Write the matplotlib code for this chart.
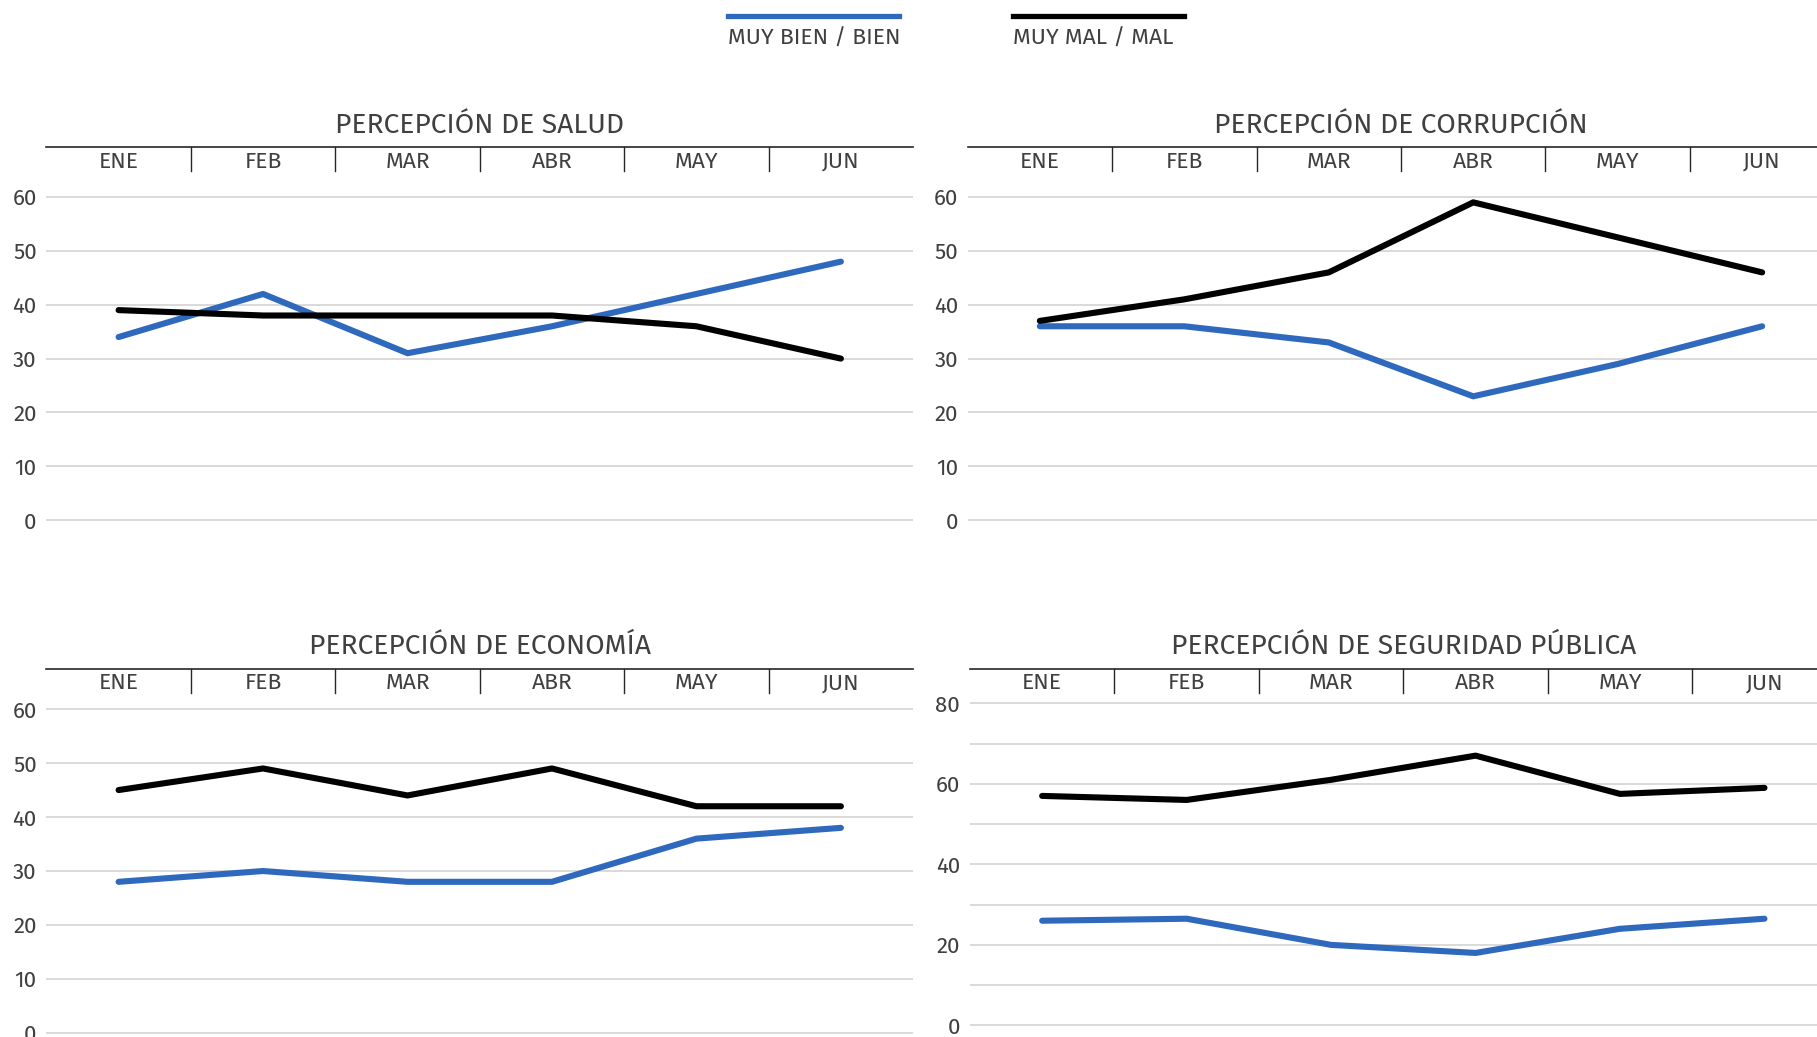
import matplotlib
matplotlib.use("Agg")
import matplotlib.pyplot as plt
from matplotlib import font_manager
from matplotlib.lines import Line2D
import matplotlib.transforms as mtransforms

# ---------------- data ----------------
months = ["ENE", "FEB", "MAR", "ABR", "MAY", "JUN"]
series_names = ["MUY BIEN / BIEN", "MUY MAL / MAL"]

titles = ["PERCEPCIÓN DE SALUD", "PERCEPCIÓN DE CORRUPCIÓN",
          "PERCEPCIÓN DE ECONOMÍA", "PERCEPCIÓN DE SEGURIDAD PÚBLICA"]

salud_bien = [34, 42, 31, 36, 42, 48]
salud_mal = [39, 38, 38, 38, 36, 30]

corrupcion_bien = [36, 36, 33, 23, 29, 36]
corrupcion_mal = [37, 41, 46, 59, 52.5, 46]

economia_bien = [28, 30, 28, 28, 36, 38]
economia_mal = [45, 49, 44, 49, 42, 42]

seguridad_bien = [26, 26.5, 20, 18, 24, 26.5]
seguridad_mal = [57, 56, 61, 67, 57.5, 59]

# ---------------- style ----------------
avail = {f.name for f in font_manager.fontManager.ttflist}
font = "DejaVu Sans"
for cand in ["Fira Sans", "Liberation Sans Narrow", "Roboto Condensed", "Roboto", "Open Sans"]:
    if cand in avail:
        font = cand
        break
plt.rcParams["font.family"] = [font, "DejaVu Sans"]

BLUE = "#2F69BD"
BLACK = "#000000"
TXT = "#404040"
GRID = "#D9D9D9"

W, H = 1568.0, 895.0  # reference display coordinate system
fig = plt.figure(figsize=(18.17, 10.37), dpi=100)


def make_axes(x0, x1, ytop, y0, yv, v, bottom=-2.0):
    unit = (y0 - yv) / v
    top_val = v + (yv - ytop) / unit
    ybot = y0 + (-bottom) * unit
    rect = [x0 / W, 1 - ybot / H, (x1 - x0) / W, (ybot - ytop) / H]
    ax = fig.add_axes(rect)
    ax.set_ylim(bottom, top_val)
    return ax


panels = [
    dict(title=titles[0], bien=salud_bien, mal=salud_mal,
         geom=(40, 788, 127, 449, 170, 60), ticks=range(0, 61, 10), labels=range(0, 61, 10)),
    dict(title=titles[1], bien=corrupcion_bien, mal=corrupcion_mal,
         geom=(835, 1583, 127, 449, 170, 60), ticks=range(0, 61, 10), labels=range(0, 61, 10)),
    dict(title=titles[2], bien=economia_bien, mal=economia_mal,
         geom=(40, 788, 577, 891.5, 612, 60), ticks=range(0, 61, 10), labels=range(0, 61, 10)),
    dict(title=titles[3], bien=seguridad_bien, mal=seguridad_mal,
         geom=(837, 1585, 577, 885, 607, 80), ticks=range(0, 81, 10), labels=range(0, 81, 20)),
]

x = list(range(len(months)))

for p in panels:
    ax = make_axes(*p["geom"])
    ax.set_xlim(-0.5, len(months) - 0.5)
    for s in ["left", "right", "bottom"]:
        ax.spines[s].set_visible(False)
    ax.spines["top"].set_color("#262626")
    ax.spines["top"].set_linewidth(1.2)
    ax.set_xticks([])
    ax.set_yticks(list(p["ticks"]))
    ax.set_yticklabels([str(t) if t in p["labels"] else "" for t in p["ticks"]],
                       fontsize=16, color=TXT)
    ax.tick_params(axis="y", length=0, pad=7)
    ax.yaxis.grid(True, color=GRID, linewidth=1.4)
    ax.set_axisbelow(True)

    # category separators hanging from the top axis line
    trans = mtransforms.blended_transform_factory(ax.transData, ax.transAxes)
    px_per_axes = ax.get_window_extent().height  # figure pixels
    frac = (21.0 * 1037.0 / H) / px_per_axes
    for b in range(1, len(months)):
        ax.plot([b - 0.5, b - 0.5], [1, 1 - frac], transform=trans,
                color="#262626", linewidth=1.0, clip_on=False)

    for i, m in enumerate(months):
        ax.annotate(m, xy=(i, 1), xycoords=trans, xytext=(0, -10.5),
                    textcoords="offset points", ha="center", va="center",
                    fontsize=16.5, color=TXT)

    ax.annotate(p["title"], xy=(0.5, 1), xycoords="axes fraction", xytext=(0, 16),
                textcoords="offset points", ha="center", va="center",
                fontsize=20.3, color=TXT)

    ax.plot(x, p["bien"], color=BLUE, linewidth=4.4, solid_joinstyle="round",
            solid_capstyle="round", zorder=3)
    ax.plot(x, p["mal"], color=BLACK, linewidth=4.4, solid_joinstyle="round",
            solid_capstyle="round", zorder=3)

# ---------------- legend ----------------
leg_items = [(series_names[0], BLUE, 628, 776), (series_names[1], BLACK, 874, 1022)]
for name, col, lx0, lx1 in leg_items:
    fig.add_artist(Line2D([lx0 / W, lx1 / W], [1 - 14 / H, 1 - 14 / H],
                          color=col, linewidth=3.8, transform=fig.transFigure))
    fig.text(lx0 / W, 1 - 33 / H, name, ha="left", va="center", fontsize=16.5, color=TXT)

fig.savefig("out.png", dpi=100)
